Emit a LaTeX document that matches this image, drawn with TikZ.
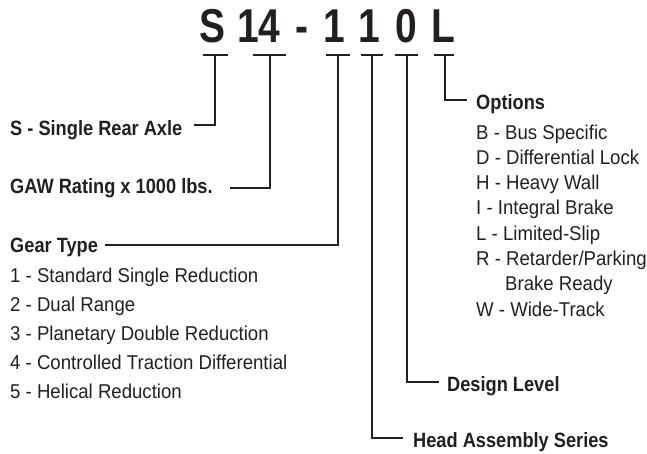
\documentclass[tikz,border=0pt]{standalone}
\usepackage{fontspec}
\setmainfont{Liberation Sans}
\newfontfamily\fB{Liberation Sans}[FakeStretch=0.88]
\newfontfamily\fR{Liberation Sans}[FakeStretch=0.93]
\newfontfamily\fT{Liberation Sans}[FakeStretch=0.82]
\definecolor{ink}{HTML}{231F20}
\begin{document}
\begin{tikzpicture}[x=1pt,y=-1pt,
  lab/.style={anchor=base west,inner sep=0pt,text=ink,font=\fB\bfseries\fontsize{20.7}{24}\selectfont},
  item/.style={anchor=base west,inner sep=0pt,text=ink,font=\fR\fontsize{20}{24}\selectfont},
  ttl/.style={anchor=base,inner sep=0pt,text=ink,font=\fT\bfseries\fontsize{47.5}{50}\selectfont},
  conn/.style={draw=ink,line width=1.8pt},
  tbar/.style={draw=ink,line width=1.8pt}]
\useasboundingbox (0,0) rectangle (647,453);
% title
\node[ttl] (tS) at (212,42) {S};
\node[ttl] (t14) at (259,42) {14};
\node[ttl] (tdash) at (302,42) {-};
\node[ttl] (t1a) at (334,42) {1};
\node[ttl] (t1b) at (369,42) {1};
\node[ttl] (t0) at (406.5,42) {0};
\node[ttl] (tL) at (443,42) {L};
% bars
\coordinate (bSl) at (203,55); \coordinate (bSr) at (228,55); \coordinate (bS) at (215,55);
\coordinate (b14l) at (253,55); \coordinate (b14r) at (286,55); \coordinate (b14) at (270,55);
\coordinate (bGl) at (326,55); \coordinate (bGr) at (350,55); \coordinate (bG) at (338,55);
\coordinate (bHl) at (361,55); \coordinate (bHr) at (383,55); \coordinate (bH) at (372,55);
\coordinate (bDl) at (395,55); \coordinate (bDr) at (418,55); \coordinate (bD) at (407,55);
\coordinate (bOl) at (434,55); \coordinate (bOr) at (454,55); \coordinate (bO) at (445,55);
\foreach \b in {S,14,G,H,D,O} \draw[tbar] (b\b l) -- (b\b r);
% connector ends
\coordinate (eS) at (194,125);
\coordinate (e14) at (230,188);
\coordinate (eG) at (105,245);
\coordinate (eH) at (403,438);
\coordinate (eD) at (439,382);
\coordinate (eO) at (467,100);
\draw[conn] (bS) |- (eS);
\draw[conn] (b14) |- (e14);
\draw[conn] (bG) |- (eG);
\draw[conn] (bH) |- (eH);
\draw[conn] (bD) |- (eD);
\draw[conn] (bO) |- (eO);
% labels
\node[lab] (lS) at (10,135) {S - Single Rear Axle};
\node[lab] (lGAW) at (10,193) {GAW Rating x 1000 lbs.};
\node[lab] (lG) at (10,252) {Gear Type};
\node[lab] (lO) at (476,109) {Options};
\node[lab] (lD) at (447,391) {Design Level};
\node[lab] (lH) at (413,447) {Head Assembly Series};
% gear type items
\node[item] (g1) at (10,282) {1 - Standard Single Reduction};
\node[item] (g2) at (10,311) {2 - Dual Range};
\node[item] (g3) at (10,340) {3 - Planetary Double Reduction};
\node[item] (g4) at (10,369) {4 - Controlled Traction Differential};
\node[item] (g5) at (10,398) {5 - Helical Reduction};
% options items
\node[item] (o1) at (476,139) {B - Bus Specific};
\node[item] (o2) at (476,164.3) {D - Differential Lock};
\node[item] (o3) at (476,189.6) {H - Heavy Wall};
\node[item] (o4) at (476,214.9) {I - Integral Brake};
\node[item] (o5) at (476,240.2) {L - Limited-Slip};
\node[item] (o6) at (476,265.5) {R - Retarder/Parking};
\node[item] (o6b) at (505,290.8) {Brake Ready};
\node[item] (o7) at (476,316.1) {W - Wide-Track};
\end{tikzpicture}
\end{document}
